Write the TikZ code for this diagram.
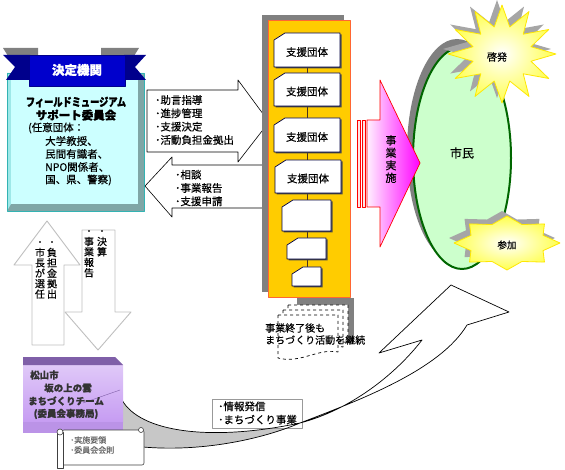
\documentclass[tikz,border=0pt]{standalone}
\usepackage{fontspec}
\usepackage{graphicx}
\setmainfont{Noto Sans CJK JP}[FakeBold=0.5, BoldFeatures={FakeBold=1.2}]

\definecolor{banblue}{HTML}{0000CC}
\definecolor{bandark}{HTML}{00008C}
\definecolor{cyanface}{HTML}{CCFFFF}
\definecolor{cyanedge}{HTML}{7FA6A6}
\definecolor{cyanline}{HTML}{33B3B3}
\definecolor{colorange}{HTML}{FFCC00}
\definecolor{colborder}{HTML}{FF6633}
\definecolor{shadowgray}{HTML}{808080}
\definecolor{citizen}{HTML}{CCFFCC}
\definecolor{citizenline}{HTML}{006600}
\definecolor{purpleface}{HTML}{C69CF2}
\definecolor{purpletop}{HTML}{7F5FA8}
\definecolor{arrowgray}{HTML}{BFBFBF}

\tikzset{
  jp/.style={font=\fontsize{10.5}{13.3}\selectfont, inner sep=0pt},
  listtext/.style={jp, anchor=west, align=left},
  vtext/.style={font=\fontsize{10}{10.4}\selectfont, inner sep=0pt, align=center, anchor=north},
  titletext/.style={font=\bfseries\fontsize{11.5}{13}\selectfont, inner sep=0pt},
  supbox/.style={draw=black!75!blue, fill=white, line width=0.7pt},
  blockarrow/.style={draw=black, fill=white, line width=0.6pt},
  grayarrow/.style={draw=arrowgray, fill=white, line width=0.9pt},
  docshape/.style={draw=black, fill=white, dashed, line width=0.7pt},
}

\begin{document}
\begin{tikzpicture}[x=1pt, y=-1pt, line join=round]
\useasboundingbox (0,0) rectangle (565,470);

% up and down arrows
\draw[grayarrow] (32,345) -- (32,265) -- (14,265) -- (47,221) -- (80,265) -- (64,265) -- (64,345) -- cycle;
\draw[grayarrow] (82,230) -- (115,230) -- (115,312) -- (131,312) -- (98,350) -- (65,312) -- (82,312) -- cycle;
\node[vtext] (fund) at (52,241) {･\\負\\担\\金\\拠\\出};
\node[vtext] (mayor) at (40,241) {･\\市\\長\\が\\選\\任};
\node[vtext] (settle) at (102,230) {･\\決\\算};
\node[vtext] (report) at (89,230) {･\\事\\業\\報\\告};

% committee box
\fill[cyanedge] (7,73) rectangle (144,211);
\fill[cyanface!70!cyanline] (7,73) -- (144,73) -- (138,78) -- (11,78) -- (11,204) -- (7,211) -- cycle;
\fill[cyanface] (11,78) rectangle (138,204);
\draw[cyanline, line width=0.8pt] (7,73) rectangle (144,211);

\fill[shadowgray] (3,48) -- (38,48) -- (38,56) -- (8,56) -- cycle;
\fill[shadowgray] (101,48) -- (139,48) -- (134,56) -- (101,56) -- cycle;
\fill[bandark] (3,55) -- (30,55) -- (30,80) -- (6,80) -- (15,67) -- cycle;
\fill[bandark] (124,55) -- (146,55) -- (135,67) -- (146,80) -- (124,80) -- cycle;
\filldraw[fill=banblue, draw=bandark, line width=0.8pt] (29,55) rectangle (125,86);
\node[font=\bfseries\fontsize{12.5}{14}\selectfont, text=white, inner sep=0pt] (organ) at (77,70) {決定機関};

\node[titletext] (museum) at (76,102) {\scalebox{0.8}[1]{フィールドミュージアム}};
\node[titletext] (support) at (76,115) {サポート委員会};
\node[listtext] (members) at (28,128) {(任意団体：};
\node[listtext] (univ) at (45,141) {大学教授、};
\node[listtext] (expert) at (45,154) {民間有識者、};
\node[listtext] (npo) at (45,167) {NPO関係者、};
\node[listtext] (gov) at (45,180) {国、県、警察)};

% advice and request arrows
\draw[blockarrow] (147,90) -- (238,90) -- (238,80) -- (269,122) -- (238,162) -- (238,152) -- (147,152) -- cycle;
\node[listtext] (advice) at (155,120) {･助言指導\\･進捗管理\\･支援決定\\･活動負担金拠出};
\draw[blockarrow] (263,165) -- (172,165) -- (172,157) -- (145,186) -- (172,217) -- (172,208) -- (263,208) -- cycle;
\node[listtext] (consult) at (175,188) {･相談\\･事業報告\\･支援申請};

% column of support groups
\fill[shadowgray] (262,15) rectangle (344,292);
\filldraw[fill=colorange, draw=colborder, line width=0.8pt] (268,20) rectangle (350,297);
\draw[black!60!brown] (307,67) -- (307,267);
\foreach \xa/\ya/\xb/\yb/\lbl [count=\i] in {274/33/340/67/支援団体, 274/73/340/106/支援団体,
    274/118/340/152/支援団体, 275/160/341/193/支援団体, 282/200/331/231/{}, 287/238/326/259/{}, 292/267/321/286/{}}
{
  \fill[black!70] (\xa+1.5,\ya+8.5) -- (\xa+12.5,\ya+1.5) -- (\xb+1.5,\ya+1.5) -- (\xb+1.5,\yb+1.5) -- (\xa+1.5,\yb+1.5) -- cycle;
  \draw[supbox] (\xa,\ya+7) -- (\xa+11,\ya) -- (\xb,\ya) -- (\xb,\yb) -- (\xa,\yb) -- cycle;
  \node[jp] (grp\i) at ({(\xa+\xb)/2},{(\ya+\yb)/2+2}) {\lbl};
}

% continuing activities
\fill[shadowgray] (297,298) rectangle (354,343);
\foreach \d in {10,5,0} {
  \begin{scope}[shift={(\d,-\d)}]
    \draw[docshape] (278,315) -- (338,315) -- (338,352) .. controls (318,348) and (300,364) .. (278,358) -- cycle;
  \end{scope}
}
\node[listtext, font=\fontsize{10}{12}\selectfont] (after) at (265,334) {事業終了後も\\まちづくり活動を継続};

% citizens
\fill[shadowgray] (457,151) ellipse [x radius=50pt, y radius=112pt];
\filldraw[fill=citizen, draw=citizenline, line width=2pt] (462,158) ellipse [x radius=49pt, y radius=111pt];
\node[font=\fontsize{12}{14}\selectfont, inner sep=0pt] (citizen) at (462,153) {市民};

\fill[shadowgray!70] plot[variable=\t, samples at={0,...,23}] ({497+ifthenelse(mod(\t,2)==0,54,30)*cos(15*\t)}, {49+ifthenelse(mod(\t,2)==0,49,28)*sin(15*\t)}) -- cycle;
\shadedraw[inner color=white, outer color=yellow!70, draw=yellow!90!orange, line width=0.8pt]
  plot[variable=\t, samples at={0,...,23}] ({502+ifthenelse(mod(\t,2)==0,54,30)*cos(15*\t)}, {54+ifthenelse(mod(\t,2)==0,49,28)*sin(15*\t)}) -- cycle;
\node[font=\fontsize{10}{12}\selectfont, inner sep=0pt] (enlight) at (497,57) {啓発};

\fill[shadowgray!70] plot[variable=\t, samples at={0,...,15}] ({502+ifthenelse(mod(\t,2)==0,53,39)*cos(22.5*\t)}, {238+ifthenelse(mod(\t,2)==0,27,20)*sin(22.5*\t)}) -- cycle;
\shadedraw[inner color=white, outer color=yellow!70, draw=yellow!90!orange, line width=0.8pt]
  plot[variable=\t, samples at={0,...,15}] ({507+ifthenelse(mod(\t,2)==0,53,39)*cos(22.5*\t)}, {243+ifthenelse(mod(\t,2)==0,27,20)*sin(22.5*\t)}) -- cycle;
\node[font=\fontsize{9.5}{11}\selectfont, inner sep=0pt] (join) at (507,245) {参加};

% implementation arrow
\filldraw[fill=pink!40, draw=red, line width=0.5pt] (357,120) rectangle (360,207);
\filldraw[fill=pink!40, draw=red, line width=0.5pt] (362,120) rectangle (365,207);
\shadedraw[left color=magenta!6, right color=magenta, draw=red, line width=0.7pt]
  (367,120) -- (380,120) -- (380,80) -- (420,163) -- (380,247) -- (380,207) -- (367,207) -- cycle;
\node[vtext, font=\fontsize{11}{12.5}\selectfont] (impl) at (391,135) {事\\業\\実\\施};

% curved ribbon arrow
\coordinate (s1) at (122,400);
\coordinate (s2) at (143,447);
\coordinate (mid) at (300,423);
\coordinate (e1) at (422,340);
\coordinate (e2) at (467,325);
\coordinate (barb) at (379,353);
\coordinate (tip) at (451,285);
\coordinate (wing) at (509,312);
\fill[black!22] (s1) .. controls (140,432) and (210,442) .. (mid) .. controls (260,440) and (200,452) .. (s2) -- (140,430) -- (120,430) -- cycle;
\draw[draw=black!40, fill=white] (212,399) rectangle (302,428);
\node[listtext] (info) at (218,413) {･情報発信\\･まちづくり事業};
\draw[line width=0.7pt] (s1) .. controls (140,432) and (210,442) .. (mid) .. controls (350,410) and (395,375) .. (e1)
  -- (barb) -- (tip) -- (wing) -- (e2) .. controls (440,370) and (360,400) .. (mid) .. controls (260,440) and (200,452) .. (s2);

% city team
\shade[top color=purpleface!55!white, bottom color=purpleface] (23,365) rectangle (123,422);
\fill[purpletop] (23,357) -- (115,357) -- (123,365) -- (23,365) -- cycle;
\fill[purpleface!85!purpletop] (23,422) rectangle (123,433);
\draw[purpletop, line width=0.4pt] (83,403) -- (120,390);
\node[listtext, font=\bfseries\fontsize{9.5}{11}\selectfont, text=black!80] (city) at (30,375) {松山市};
\node[font=\bfseries\fontsize{9.5}{11}\selectfont, text=black!80, inner sep=0pt] (cloud) at (68,388) {坂の上の雲};
\node[font=\bfseries\fontsize{9.5}{11}\selectfont, text=black!80, inner sep=0pt] (team) at (66,401) {まちづくりチーム};
\node[font=\bfseries\fontsize{9.5}{11}\selectfont, text=black!80, inner sep=0pt] (office) at (66,414) {(委員会事務局)};

% scroll of rules
\filldraw[fill=white, draw=black!75, line width=0.6pt, rounded corners=2pt] (62,430) rectangle (144,465);
\filldraw[fill=white, draw=black!75, line width=0.6pt] (57,432) rectangle (63,468);
\filldraw[fill=white, draw=black!75, line width=0.6pt] (60,432) circle (3pt);
\filldraw[fill=white, draw=black!75, line width=0.6pt] (141,430) circle (2.5pt);
\node[listtext, font=\fontsize{8}{10}\selectfont, text=black!60] (rules) at (70,445) {･実施要領\\･委員会会則};
\end{tikzpicture}
\end{document}
